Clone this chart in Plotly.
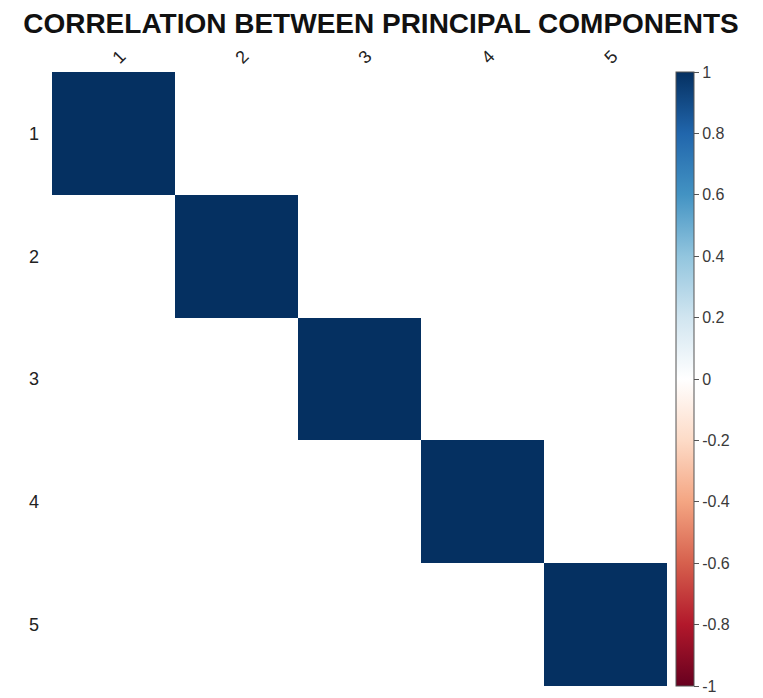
import plotly.graph_objects as go

components = ["1", "2", "3", "4", "5"]
corr = [
    [1.0, 0.0, 0.0, 0.0, 0.0],
    [0.0, 1.0, 0.0, 0.0, 0.0],
    [0.0, 0.0, 1.0, 0.0, 0.0],
    [0.0, 0.0, 0.0, 1.0, 0.0],
    [0.0, 0.0, 0.0, 0.0, 1.0],
]
cbar_ticks = [-1, -0.8, -0.6, -0.4, -0.2, 0, 0.2, 0.4, 0.6, 0.8, 1]
cbar_labels = ["-1", "-0.8", "-0.6", "-0.4", "-0.2", "0", "0.2", "0.4", "0.6", "0.8", "1"]

colorscale = [
    [0.0, "#67001F"], [0.1, "#B2182B"], [0.2, "#D6604D"], [0.3, "#F4A582"],
    [0.4, "#FDDBC7"], [0.5, "#FFFFFF"], [0.6, "#D1E5F0"], [0.7, "#92C5DE"],
    [0.8, "#4393C3"], [0.9, "#2166AC"], [1.0, "#053061"],
]

fig = go.Figure(go.Heatmap(
    z=corr, x=components, y=components,
    zmin=-1, zmax=1, colorscale=colorscale,
    xgap=0, ygap=0,
    colorbar=dict(
        x=1.0146, xanchor="left", xpad=0, ypad=0,
        y=0.5, yanchor="middle", len=1, lenmode="fraction",
        thickness=18, outlinecolor="#555555", outlinewidth=1,
        tickvals=cbar_ticks, ticktext=cbar_labels,
        ticks="outside", ticklen=5, tickcolor="#555555",
        tickfont=dict(family="Liberation Sans, Arial", size=16, color="#3a3a3a"),
    ),
))

fig.update_layout(
    width=755, height=690,
    margin=dict(l=44, r=96, t=64, b=12),
    paper_bgcolor="white", plot_bgcolor="white",
    title=dict(
        text="<b>CORRELATION BETWEEN PRINCIPAL COMPONENTS</b>",
        x=0.494, xref="container", xanchor="center",
        y=0.978, yref="container", yanchor="middle",
        font=dict(family="Liberation Sans, Arial", size=28, color="#111111"),
    ),
    xaxis=dict(
        side="top", tickangle=-45, showgrid=False, zeroline=False,
        ticks="", tickfont=dict(family="Liberation Sans, Arial", size=18, color="#222222"),
        showline=False,
    ),
    yaxis=dict(
        autorange="reversed", showgrid=False, zeroline=False,
        ticks="", ticklabelstandoff=12,
        tickfont=dict(family="Liberation Sans, Arial", size=18, color="#222222"),
        showline=False,
    ),
)

fig.write_html("out.html")
